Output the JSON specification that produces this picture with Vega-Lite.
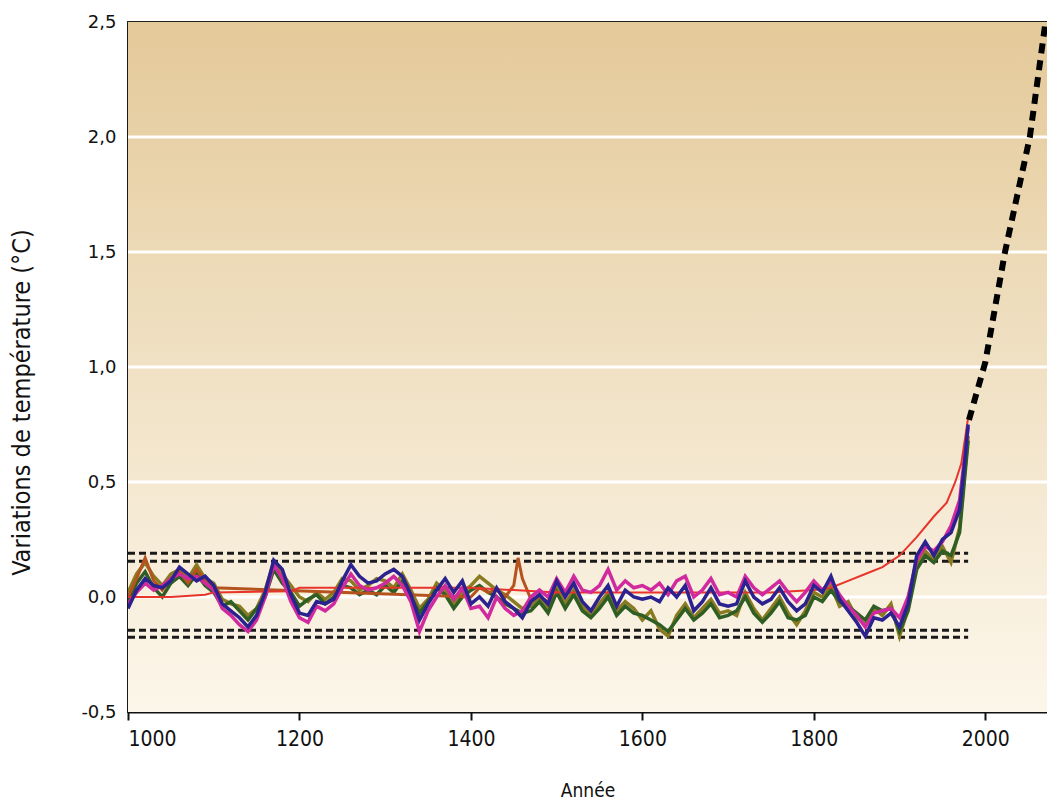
{
  "$schema": "https://vega.github.io/schema/vega-lite/v6.json",
  "width": 919,
  "height": 690,
  "autosize": {"type": "none"},
  "padding": {"left": 128, "top": 22, "right": 0, "bottom": 99},
  "background": "white",
  "config": {"view": {"stroke": "#222", "strokeWidth": 2}},
  "datasets": {
    "bg": [{"year": 1000, "year2": 2072, "v": -0.5, "v2": 2.5}],
    "grid": [{"year": 1000, "year2": 2072, "v": 0}, {"year": 1000, "year2": 2072, "v": 0.5}, {"year": 1000, "year2": 2072, "v": 1.0}, {"year": 1000, "year2": 2072, "v": 1.5}, {"year": 1000, "year2": 2072, "v": 2.0}],
    "refs": [
      {"year": 1000, "year2": 1980, "v": 0.19},
      {"year": 1000, "year2": 1980, "v": 0.155},
      {"year": 1000, "year2": 1980, "v": -0.145},
      {"year": 1000, "year2": 1980, "v": -0.175}
    ],
    "forecast": [
      {"year": 1981, "v": 0.77}, {"year": 2000, "v": 1.02}, {"year": 2023, "v": 1.5}, {"year": 2052, "v": 2.0}, {"year": 2071, "v": 2.52}
    ],
    "red": [
      {"year": 1000, "v": 0.0}, {"year": 1050, "v": 0.0}, {"year": 1090, "v": 0.01}, {"year": 1100, "v": 0.02}, {"year": 1190, "v": 0.025},
      {"year": 1200, "v": 0.04}, {"year": 1300, "v": 0.04}, {"year": 1400, "v": 0.04}, {"year": 1450, "v": 0.03}, {"year": 1500, "v": 0.02},
      {"year": 1600, "v": 0.02}, {"year": 1700, "v": 0.02}, {"year": 1750, "v": 0.02}, {"year": 1800, "v": 0.03}, {"year": 1820, "v": 0.04},
      {"year": 1840, "v": 0.07}, {"year": 1860, "v": 0.1}, {"year": 1880, "v": 0.13}, {"year": 1900, "v": 0.18}, {"year": 1920, "v": 0.26},
      {"year": 1940, "v": 0.35}, {"year": 1955, "v": 0.41}, {"year": 1965, "v": 0.5}, {"year": 1972, "v": 0.58}, {"year": 1980, "v": 0.78}
    ],
    "brown": [
      {"year": 1000, "v": 0.0}, {"year": 1010, "v": 0.08}, {"year": 1020, "v": 0.17}, {"year": 1030, "v": 0.07}, {"year": 1040, "v": 0.03},
      {"year": 1050, "v": 0.08}, {"year": 1060, "v": 0.11}, {"year": 1070, "v": 0.06}, {"year": 1080, "v": 0.12}, {"year": 1090, "v": 0.07},
      {"year": 1100, "v": 0.04}, {"year": 1400, "v": 0.0}, {"year": 1410, "v": 0.04}, {"year": 1420, "v": 0.02}, {"year": 1430, "v": 0.03},
      {"year": 1440, "v": 0.0}, {"year": 1450, "v": 0.05}, {"year": 1455, "v": 0.17}, {"year": 1460, "v": 0.08}, {"year": 1470, "v": -0.01},
      {"year": 1480, "v": 0.0}, {"year": 1490, "v": -0.02}, {"year": 1500, "v": 0.03}
    ],
    "olive": [
      {"year": 1000, "v": 0.02}, {"year": 1010, "v": 0.1}, {"year": 1020, "v": 0.15}, {"year": 1030, "v": 0.09}, {"year": 1040, "v": 0.05},
      {"year": 1050, "v": 0.1}, {"year": 1060, "v": 0.12}, {"year": 1070, "v": 0.08}, {"year": 1080, "v": 0.14}, {"year": 1090, "v": 0.08},
      {"year": 1100, "v": 0.06}, {"year": 1110, "v": -0.01}, {"year": 1120, "v": -0.03}, {"year": 1130, "v": -0.04}, {"year": 1140, "v": -0.08},
      {"year": 1150, "v": -0.05}, {"year": 1160, "v": 0.03}, {"year": 1170, "v": 0.15}, {"year": 1180, "v": 0.1}, {"year": 1190, "v": 0.05},
      {"year": 1200, "v": 0.0}, {"year": 1210, "v": -0.02}, {"year": 1220, "v": 0.02}, {"year": 1230, "v": -0.01}, {"year": 1240, "v": 0.02},
      {"year": 1250, "v": 0.08}, {"year": 1260, "v": 0.07}, {"year": 1270, "v": 0.03}, {"year": 1280, "v": 0.05}, {"year": 1290, "v": 0.08},
      {"year": 1300, "v": 0.07}, {"year": 1310, "v": 0.04}, {"year": 1320, "v": 0.1}, {"year": 1330, "v": 0.03}, {"year": 1340, "v": -0.05},
      {"year": 1350, "v": -0.01}, {"year": 1360, "v": 0.06}, {"year": 1370, "v": 0.03}, {"year": 1380, "v": -0.03}, {"year": 1390, "v": 0.02},
      {"year": 1400, "v": 0.05}, {"year": 1410, "v": 0.09}, {"year": 1420, "v": 0.06}, {"year": 1430, "v": 0.03}, {"year": 1440, "v": 0.01},
      {"year": 1450, "v": -0.02}, {"year": 1460, "v": -0.05}, {"year": 1470, "v": -0.04}, {"year": 1480, "v": 0.0}, {"year": 1490, "v": -0.05},
      {"year": 1500, "v": 0.04}, {"year": 1510, "v": -0.03}, {"year": 1520, "v": 0.03}, {"year": 1530, "v": -0.04}, {"year": 1540, "v": -0.08},
      {"year": 1550, "v": -0.03}, {"year": 1560, "v": 0.02}, {"year": 1570, "v": -0.06}, {"year": 1580, "v": -0.02}, {"year": 1590, "v": -0.05},
      {"year": 1600, "v": -0.1}, {"year": 1610, "v": -0.06}, {"year": 1620, "v": -0.14}, {"year": 1630, "v": -0.17}, {"year": 1640, "v": -0.08},
      {"year": 1650, "v": -0.03}, {"year": 1660, "v": -0.09}, {"year": 1670, "v": -0.05}, {"year": 1680, "v": -0.01}, {"year": 1690, "v": -0.07},
      {"year": 1700, "v": -0.06}, {"year": 1710, "v": -0.08}, {"year": 1720, "v": 0.02}, {"year": 1730, "v": -0.05}, {"year": 1740, "v": -0.1},
      {"year": 1750, "v": -0.05}, {"year": 1760, "v": 0.0}, {"year": 1770, "v": -0.07}, {"year": 1780, "v": -0.12}, {"year": 1790, "v": -0.06},
      {"year": 1800, "v": 0.02}, {"year": 1810, "v": 0.0}, {"year": 1820, "v": 0.05}, {"year": 1830, "v": -0.04}, {"year": 1840, "v": -0.02},
      {"year": 1850, "v": -0.09}, {"year": 1860, "v": -0.12}, {"year": 1870, "v": -0.05}, {"year": 1880, "v": -0.08}, {"year": 1890, "v": -0.03},
      {"year": 1900, "v": -0.17}, {"year": 1910, "v": -0.05}, {"year": 1920, "v": 0.14}, {"year": 1930, "v": 0.2}, {"year": 1940, "v": 0.16},
      {"year": 1950, "v": 0.22}, {"year": 1960, "v": 0.15}, {"year": 1970, "v": 0.3}, {"year": 1975, "v": 0.5}, {"year": 1980, "v": 0.7}
    ],
    "green": [
      {"year": 1000, "v": -0.02}, {"year": 1010, "v": 0.06}, {"year": 1020, "v": 0.11}, {"year": 1030, "v": 0.04}, {"year": 1040, "v": 0.0},
      {"year": 1050, "v": 0.06}, {"year": 1060, "v": 0.09}, {"year": 1070, "v": 0.05}, {"year": 1080, "v": 0.1}, {"year": 1090, "v": 0.05},
      {"year": 1100, "v": 0.02}, {"year": 1110, "v": -0.04}, {"year": 1120, "v": -0.02}, {"year": 1130, "v": -0.06}, {"year": 1140, "v": -0.1},
      {"year": 1150, "v": -0.05}, {"year": 1160, "v": 0.0}, {"year": 1170, "v": 0.12}, {"year": 1180, "v": 0.06}, {"year": 1190, "v": 0.02},
      {"year": 1200, "v": -0.04}, {"year": 1210, "v": -0.01}, {"year": 1220, "v": 0.01}, {"year": 1230, "v": -0.03}, {"year": 1240, "v": 0.0},
      {"year": 1250, "v": 0.05}, {"year": 1260, "v": 0.04}, {"year": 1270, "v": 0.01}, {"year": 1280, "v": 0.03}, {"year": 1290, "v": 0.01},
      {"year": 1300, "v": 0.05}, {"year": 1310, "v": 0.02}, {"year": 1320, "v": 0.07}, {"year": 1330, "v": 0.0}, {"year": 1340, "v": -0.07},
      {"year": 1350, "v": -0.02}, {"year": 1360, "v": 0.04}, {"year": 1370, "v": 0.01}, {"year": 1380, "v": -0.05}, {"year": 1390, "v": 0.0},
      {"year": 1400, "v": 0.03}, {"year": 1410, "v": 0.05}, {"year": 1420, "v": 0.02}, {"year": 1430, "v": 0.0}, {"year": 1440, "v": -0.03},
      {"year": 1450, "v": -0.05}, {"year": 1460, "v": -0.07}, {"year": 1470, "v": -0.06}, {"year": 1480, "v": -0.02}, {"year": 1490, "v": -0.07},
      {"year": 1500, "v": 0.02}, {"year": 1510, "v": -0.05}, {"year": 1520, "v": 0.01}, {"year": 1530, "v": -0.06}, {"year": 1540, "v": -0.09},
      {"year": 1550, "v": -0.05}, {"year": 1560, "v": 0.0}, {"year": 1570, "v": -0.08}, {"year": 1580, "v": -0.04}, {"year": 1590, "v": -0.07},
      {"year": 1600, "v": -0.08}, {"year": 1610, "v": -0.1}, {"year": 1620, "v": -0.12}, {"year": 1630, "v": -0.15}, {"year": 1640, "v": -0.1},
      {"year": 1650, "v": -0.05}, {"year": 1660, "v": -0.1}, {"year": 1670, "v": -0.07}, {"year": 1680, "v": -0.03}, {"year": 1690, "v": -0.09},
      {"year": 1700, "v": -0.08}, {"year": 1710, "v": -0.06}, {"year": 1720, "v": 0.0}, {"year": 1730, "v": -0.07}, {"year": 1740, "v": -0.11},
      {"year": 1750, "v": -0.07}, {"year": 1760, "v": -0.02}, {"year": 1770, "v": -0.09}, {"year": 1780, "v": -0.1}, {"year": 1790, "v": -0.08},
      {"year": 1800, "v": 0.0}, {"year": 1810, "v": -0.02}, {"year": 1820, "v": 0.03}, {"year": 1830, "v": -0.02}, {"year": 1840, "v": -0.04},
      {"year": 1850, "v": -0.07}, {"year": 1860, "v": -0.1}, {"year": 1870, "v": -0.04}, {"year": 1880, "v": -0.06}, {"year": 1890, "v": -0.05},
      {"year": 1900, "v": -0.15}, {"year": 1910, "v": -0.06}, {"year": 1920, "v": 0.12}, {"year": 1930, "v": 0.18}, {"year": 1940, "v": 0.15},
      {"year": 1950, "v": 0.2}, {"year": 1960, "v": 0.18}, {"year": 1970, "v": 0.28}, {"year": 1975, "v": 0.48}, {"year": 1980, "v": 0.68}
    ],
    "magenta": [
      {"year": 1000, "v": -0.03}, {"year": 1010, "v": 0.02}, {"year": 1020, "v": 0.06}, {"year": 1030, "v": 0.03}, {"year": 1040, "v": 0.05},
      {"year": 1050, "v": 0.08}, {"year": 1060, "v": 0.1}, {"year": 1070, "v": 0.08}, {"year": 1080, "v": 0.09}, {"year": 1090, "v": 0.06},
      {"year": 1100, "v": 0.03}, {"year": 1110, "v": -0.05}, {"year": 1120, "v": -0.08}, {"year": 1130, "v": -0.12}, {"year": 1140, "v": -0.15},
      {"year": 1150, "v": -0.1}, {"year": 1160, "v": 0.0}, {"year": 1170, "v": 0.14}, {"year": 1180, "v": 0.08}, {"year": 1190, "v": -0.02},
      {"year": 1200, "v": -0.09}, {"year": 1210, "v": -0.11}, {"year": 1220, "v": -0.04}, {"year": 1230, "v": -0.06}, {"year": 1240, "v": -0.03},
      {"year": 1250, "v": 0.04}, {"year": 1260, "v": 0.1}, {"year": 1270, "v": 0.05}, {"year": 1280, "v": 0.03}, {"year": 1290, "v": 0.04},
      {"year": 1300, "v": 0.06}, {"year": 1310, "v": 0.09}, {"year": 1320, "v": 0.05}, {"year": 1330, "v": -0.02}, {"year": 1340, "v": -0.15},
      {"year": 1350, "v": -0.06}, {"year": 1360, "v": 0.0}, {"year": 1370, "v": 0.05}, {"year": 1380, "v": -0.01}, {"year": 1390, "v": 0.04},
      {"year": 1400, "v": -0.05}, {"year": 1410, "v": -0.04}, {"year": 1420, "v": -0.09}, {"year": 1430, "v": 0.0}, {"year": 1440, "v": -0.05},
      {"year": 1450, "v": -0.08}, {"year": 1460, "v": -0.06}, {"year": 1470, "v": 0.0}, {"year": 1480, "v": 0.03}, {"year": 1490, "v": 0.0},
      {"year": 1500, "v": 0.08}, {"year": 1510, "v": 0.02}, {"year": 1520, "v": 0.09}, {"year": 1530, "v": 0.03}, {"year": 1540, "v": 0.02},
      {"year": 1550, "v": 0.05}, {"year": 1560, "v": 0.12}, {"year": 1570, "v": 0.03}, {"year": 1580, "v": 0.07}, {"year": 1590, "v": 0.04},
      {"year": 1600, "v": 0.05}, {"year": 1610, "v": 0.03}, {"year": 1620, "v": 0.06}, {"year": 1630, "v": 0.01}, {"year": 1640, "v": 0.07},
      {"year": 1650, "v": 0.09}, {"year": 1660, "v": 0.0}, {"year": 1670, "v": 0.03}, {"year": 1680, "v": 0.08}, {"year": 1690, "v": 0.01},
      {"year": 1700, "v": 0.02}, {"year": 1710, "v": 0.0}, {"year": 1720, "v": 0.09}, {"year": 1730, "v": 0.04}, {"year": 1740, "v": 0.01},
      {"year": 1750, "v": 0.04}, {"year": 1760, "v": 0.07}, {"year": 1770, "v": 0.02}, {"year": 1780, "v": -0.02}, {"year": 1790, "v": 0.02},
      {"year": 1800, "v": 0.07}, {"year": 1810, "v": 0.03}, {"year": 1820, "v": 0.07}, {"year": 1830, "v": 0.01}, {"year": 1840, "v": -0.04},
      {"year": 1850, "v": -0.08}, {"year": 1860, "v": -0.13}, {"year": 1870, "v": -0.07}, {"year": 1880, "v": -0.06}, {"year": 1890, "v": -0.05},
      {"year": 1900, "v": -0.09}, {"year": 1910, "v": 0.0}, {"year": 1920, "v": 0.16}, {"year": 1930, "v": 0.22}, {"year": 1940, "v": 0.2},
      {"year": 1950, "v": 0.24}, {"year": 1960, "v": 0.31}, {"year": 1970, "v": 0.42}, {"year": 1975, "v": 0.58}, {"year": 1980, "v": 0.74}
    ],
    "blue": [
      {"year": 1000, "v": -0.05}, {"year": 1010, "v": 0.03}, {"year": 1020, "v": 0.08}, {"year": 1030, "v": 0.05}, {"year": 1040, "v": 0.04},
      {"year": 1050, "v": 0.07}, {"year": 1060, "v": 0.13}, {"year": 1070, "v": 0.1}, {"year": 1080, "v": 0.07}, {"year": 1090, "v": 0.09},
      {"year": 1100, "v": 0.05}, {"year": 1110, "v": -0.03}, {"year": 1120, "v": -0.06}, {"year": 1130, "v": -0.09}, {"year": 1140, "v": -0.13},
      {"year": 1150, "v": -0.08}, {"year": 1160, "v": 0.02}, {"year": 1170, "v": 0.16}, {"year": 1180, "v": 0.12}, {"year": 1190, "v": 0.01},
      {"year": 1200, "v": -0.07}, {"year": 1210, "v": -0.08}, {"year": 1220, "v": -0.02}, {"year": 1230, "v": -0.03}, {"year": 1240, "v": -0.01},
      {"year": 1250, "v": 0.07}, {"year": 1260, "v": 0.14}, {"year": 1270, "v": 0.09}, {"year": 1280, "v": 0.06}, {"year": 1290, "v": 0.07},
      {"year": 1300, "v": 0.1}, {"year": 1310, "v": 0.12}, {"year": 1320, "v": 0.09}, {"year": 1330, "v": 0.01}, {"year": 1340, "v": -0.1},
      {"year": 1350, "v": -0.03}, {"year": 1360, "v": 0.03}, {"year": 1370, "v": 0.08}, {"year": 1380, "v": 0.02}, {"year": 1390, "v": 0.07},
      {"year": 1400, "v": -0.03}, {"year": 1410, "v": 0.0}, {"year": 1420, "v": -0.04}, {"year": 1430, "v": 0.04}, {"year": 1440, "v": -0.02},
      {"year": 1450, "v": -0.05}, {"year": 1460, "v": -0.09}, {"year": 1470, "v": -0.02}, {"year": 1480, "v": 0.01}, {"year": 1490, "v": -0.03},
      {"year": 1500, "v": 0.07}, {"year": 1510, "v": 0.0}, {"year": 1520, "v": 0.06}, {"year": 1530, "v": -0.02}, {"year": 1540, "v": -0.06},
      {"year": 1550, "v": 0.0}, {"year": 1560, "v": 0.05}, {"year": 1570, "v": -0.04}, {"year": 1580, "v": 0.03}, {"year": 1590, "v": 0.0},
      {"year": 1600, "v": -0.01}, {"year": 1610, "v": 0.0}, {"year": 1620, "v": -0.02}, {"year": 1630, "v": 0.04}, {"year": 1640, "v": 0.0},
      {"year": 1650, "v": 0.05}, {"year": 1660, "v": -0.06}, {"year": 1670, "v": -0.02}, {"year": 1680, "v": 0.04}, {"year": 1690, "v": -0.03},
      {"year": 1700, "v": -0.04}, {"year": 1710, "v": -0.03}, {"year": 1720, "v": 0.07}, {"year": 1730, "v": 0.0}, {"year": 1740, "v": -0.03},
      {"year": 1750, "v": -0.01}, {"year": 1760, "v": 0.04}, {"year": 1770, "v": -0.02}, {"year": 1780, "v": -0.06}, {"year": 1790, "v": -0.03},
      {"year": 1800, "v": 0.05}, {"year": 1810, "v": 0.02}, {"year": 1820, "v": 0.09}, {"year": 1830, "v": -0.01}, {"year": 1840, "v": -0.06},
      {"year": 1850, "v": -0.11}, {"year": 1860, "v": -0.17}, {"year": 1870, "v": -0.09}, {"year": 1880, "v": -0.1}, {"year": 1890, "v": -0.07},
      {"year": 1900, "v": -0.13}, {"year": 1910, "v": -0.03}, {"year": 1920, "v": 0.18}, {"year": 1930, "v": 0.24}, {"year": 1940, "v": 0.18},
      {"year": 1950, "v": 0.25}, {"year": 1960, "v": 0.28}, {"year": 1970, "v": 0.38}, {"year": 1975, "v": 0.55}, {"year": 1980, "v": 0.75}
    ]
  },
  "encoding": {
    "x": {"field": "year", "type": "quantitative", "scale": {"domain": [1000, 2072], "nice": false, "zero": false},
      "axis": {"title": "Année", "values": [1000, 1200, 1400, 1600, 1800, 2000], "format": "d", "grid": false,
        "labelFont": "DejaVu Sans Condensed, DejaVu Sans", "labelFontSize": 21, "labelColor": "#111", "labelPadding": 8,
        "tickSize": 8, "tickWidth": 2, "tickColor": "#111", "domainColor": "#111", "domainWidth": 2,
        "titleFont": "DejaVu Sans Condensed, DejaVu Sans", "titleFontSize": 19, "titleFontWeight": "normal", "titleColor": "#111", "titlePadding": 32}},
    "y": {"field": "v", "type": "quantitative", "scale": {"domain": [-0.5, 2.5], "nice": false, "zero": false},
      "axis": {"title": "Variations de température (°C)", "values": [-0.5, 0, 0.5, 1, 1.5, 2, 2.5], "grid": false, "ticks": false,
        "labelExpr": "replace(replace(format(datum.value, '.1f'), '.', ','), '−', '-')",
        "labelFont": "DejaVu Sans", "labelFontSize": 18, "labelColor": "#111", "labelPadding": 12,
        "domainColor": "#111", "domainWidth": 2,
        "titleFont": "DejaVu Sans Condensed, DejaVu Sans", "titleFontSize": 25, "titleFontWeight": "normal", "titleColor": "#111",
        "titleX": -94, "titleY": 380}}
  },
  "layer": [
    {
      "data": {"name": "bg"},
      "mark": {"type": "rect", "fill": {"gradient": "linear", "x1": 0, "y1": 0, "x2": 0, "y2": 1, "stops": [{"offset": 0, "color": "#e4c999"}, {"offset": 0.5, "color": "#f0e1c4"}, {"offset": 1, "color": "#fcf6ea"}]}},
      "encoding": {"x2": {"field": "year2"}, "y2": {"field": "v2"}}
    },
    {
      "data": {"name": "grid"},
      "mark": {"type": "rule", "color": "white", "strokeWidth": 3},
      "encoding": {"x2": {"field": "year2"}}
    },
    {
      "data": {"name": "refs"},
      "mark": {"type": "rule", "color": "#1a1a1a", "strokeWidth": 3, "strokeDash": [7, 4]},
      "encoding": {"x2": {"field": "year2"}}
    },
    {"data": {"name": "olive"}, "mark": {"type": "line", "color": "#8a7b22", "strokeWidth": 3.5, "clip": true}, "encoding": {}},
    {"data": {"name": "green"}, "mark": {"type": "line", "color": "#2f5e24", "strokeWidth": 3.5, "clip": true}, "encoding": {}},
    {"data": {"name": "brown"}, "mark": {"type": "line", "color": "#b4531d", "strokeWidth": 3, "clip": true}, "encoding": {}},
    {"data": {"name": "red"}, "mark": {"type": "line", "color": "#e8342a", "strokeWidth": 2, "clip": true}, "encoding": {}},
    {"data": {"name": "magenta"}, "mark": {"type": "line", "color": "#d02a9e", "strokeWidth": 3.5, "clip": true}, "encoding": {}},
    {"data": {"name": "blue"}, "mark": {"type": "line", "color": "#2b2290", "strokeWidth": 3.5, "clip": true}, "encoding": {}},
    {"data": {"name": "forecast"}, "mark": {"type": "line", "color": "#000", "strokeWidth": 6, "strokeDash": [10, 7], "clip": true}, "encoding": {}}
  ]
}
